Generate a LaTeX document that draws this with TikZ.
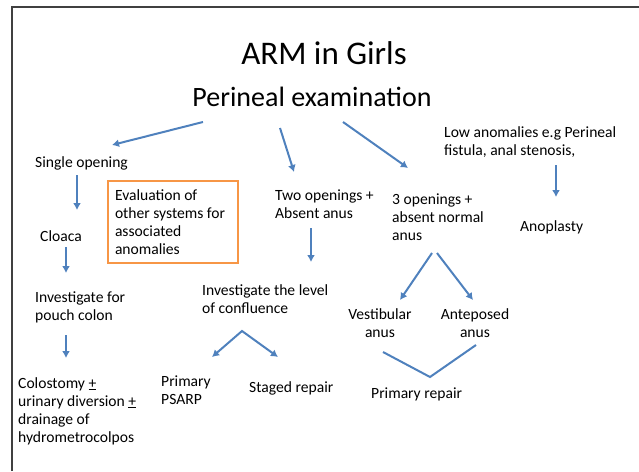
\documentclass[tikz,border=0pt]{standalone}
\usepackage{fontspec}
\setmainfont{Carlito}
\usetikzlibrary{arrows.meta}
\definecolor{arrowblue}{RGB}{79,129,189}
\definecolor{boxorange}{RGB}{247,150,70}

\begin{document}
\begin{tikzpicture}[x=1pt, y=-1pt,
		txt/.style={inner sep=0pt, anchor=base west, align=left, font=\fontsize{15.6}{18}\selectfont},
		ctxt/.style={txt, anchor=base, align=center},
		arr/.style={draw=arrowblue, line width=2pt, -{Latex[length=7pt,width=8pt]}},
		link/.style={draw=arrowblue, line width=2pt}]
	\useasboundingbox (0,0) rectangle (639,471);
	\draw[black!75, line width=2pt] (12,471) -- (12,7) -- (639,7);
	% headings
	\node[inner sep=0pt, anchor=base, font=\fontsize{33}{38}\selectfont] (title) at (324,64) {ARM in Girls};
	\node[inner sep=0pt, anchor=base, font=\fontsize{28}{32}\selectfont] (exam) at (312,106) {Perineal examination};
	% left branch (base = last line)
	\node[txt] (single) at (35,167) {Single opening};
	\node[txt] (cloaca) at (40,241) {Cloaca};
	\node[txt] (pouch) at (35,320) {Investigate for\\pouch colon};
	\node[txt] (colost) at (18,442) {Colostomy \underline{+}\\urinary diversion \underline{+}\\drainage of\\hydrometrocolpos};
	\node[draw=boxorange, line width=2pt, anchor=north west, inner xsep=7pt, text width=116pt,
		minimum height=82pt, align=flush left, font=\fontsize{15.6}{18.2}\selectfont] (eval) at (107,180)
		{Evaluation of\\other systems for\\associated\\anomalies};
	% middle branch
	\node[txt] (two) at (275,218) {Two openings +\\Absent anus};
	\node[txt] (confl) at (202,313) {Investigate the level\\of confluence};
	\node[txt] (psarp) at (161,404) {Primary\\PSARP};
	\node[txt] (staged) at (249,392) {Staged repair};
	% right branch
	\node[txt] (three) at (392,240) {3 openings +\\absent normal\\anus};
	\node[ctxt] (vest) at (380,337) {Vestibular\\anus};
	\node[ctxt] (antep) at (475,337) {Anteposed\\anus};
	\node[txt] (primrep) at (371,398) {Primary repair};
	\node[txt] (low) at (444,155) {Low anomalies e.g Perineal\\fistula, anal stenosis,};
	\node[txt] (anopl) at (520,231) {Anoplasty};

	\draw[arr] ([shift={(-109,16)}]exam.base) -- ([shift={(77,-22)}]single.base west);
	\draw[arr] ([shift={(-32,22)}]exam.base) -- ([shift={(19,-46)}]two.base west);
	\draw[arr] ([shift={(31,16)}]exam.base) -- ([shift={(16,-72)}]three.base west);
	\draw[arr] ([shift={(112,10)}]low.base west) -- ([shift={(36,-34)}]anopl.base west);
	\draw[arr] ([shift={(42,8)}]single.base west) -- ([shift={(37,-31)}]cloaca.base west);
	\draw[arr] ([shift={(26,6)}]cloaca.base west) -- ([shift={(31,-47)}]pouch.base west);
	\draw[arr] ([shift={(31,15)}]pouch.base west) -- ([shift={(48,-84)}]colost.base west);
	\draw[arr] ([shift={(36,10)}]two.base west) -- ([shift={(109,-51)}]confl.base west);
	\draw[arr, {Latex[length=7pt,width=8pt]}-{Latex[length=7pt,width=8pt]}]
		([shift={(51,-47)}]psarp.base west) -- ([shift={(40,18)}]confl.base west)
		-- ([shift={(29,-35)}]staged.base west);
	\draw[arr] ([shift={(40,13)}]three.base west) -- ([shift={(20,-37)}]vest.base);
	\draw[arr] ([shift={(45,13)}]three.base west) -- ([shift={(-2,-37)}]antep.base);
	\draw[link] ([shift={(3,15)}]vest.base) -- ([shift={(59,-21)}]primrep.base west)
		-- ([shift={(1,8)}]antep.base);
\end{tikzpicture}
\end{document}
